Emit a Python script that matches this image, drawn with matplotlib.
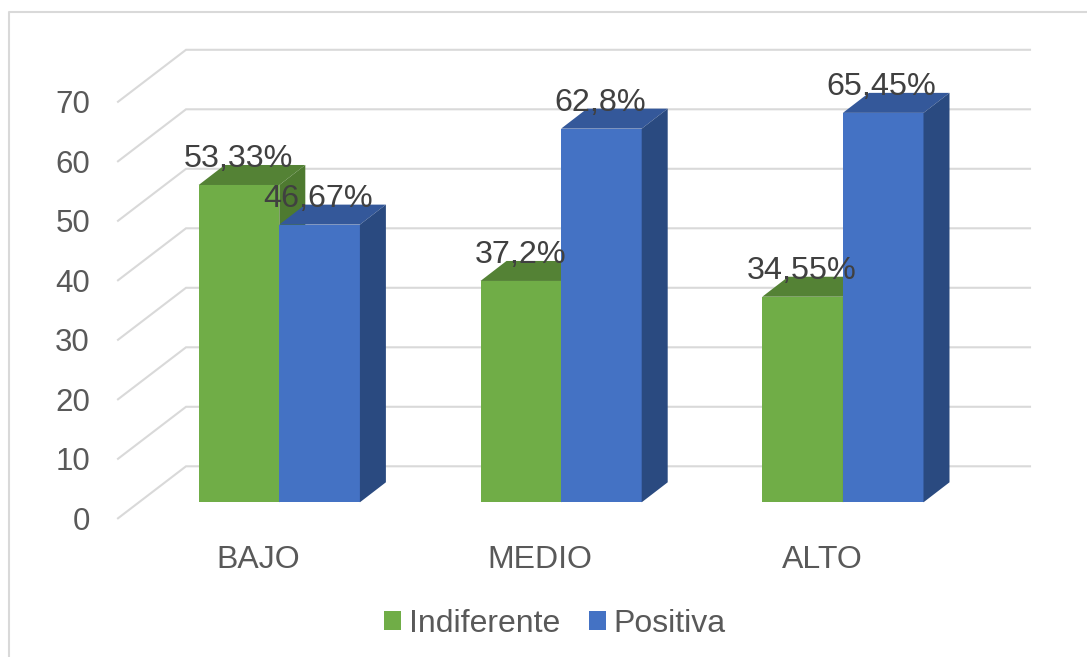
import numpy as np
import matplotlib.pyplot as plt
from matplotlib.lines import Line2D
from matplotlib.patches import Patch, Polygon, Rectangle

categories = ["BAJO", "MEDIO", "ALTO"]
indiferente = [53.33, 37.2, 34.55]
positiva = [46.67, 62.8, 65.45]
indiferente_labels = ["53,33%", "37,2%", "34,55%"]
positiva_labels = ["46,67%", "62,8%", "65,45%"]
y_ticks = [0, 10, 20, 30, 40, 50, 60, 70]

plt.rcParams["font.family"] = ["Liberation Sans", "DejaVu Sans"]

W, H = 1087, 657
PX_X = 281.8    # pixels per category
PX_Y = 5.95     # pixels per value unit
BASE_X, BASE_Y = 279.3, 502.3   # pixel of first group centre, value 0

# pixel sizes of the fake 3d look, turned into data units
bar_w = 80.6 / PX_X
bar_dx = 26 / PX_X
bar_dy = 20 / PX_Y
wall_left = (118 - BASE_X) / PX_X
wall_back = (186 - BASE_X) / PX_X
wall_right = (1030 - BASE_X) / PX_X
wall_front_y = -16 / PX_Y
wall_back_y = 36 / PX_Y

GREEN = ("#70AD47", "#548235", "#4E7A30")
BLUE = ("#4472C4", "#34589A", "#2A4A80")
GRID = "#D9D9D9"
TICK_TEXT = "#595959"
LABEL_TEXT = "#404040"

fig = plt.figure(figsize=(W / 100, H / 100), dpi=100)
ax = fig.add_axes([0, 0, 1, 1])
ax.set_xlim(-BASE_X / PX_X, (W - BASE_X) / PX_X)
ax.set_ylim((BASE_Y - H) / PX_Y, BASE_Y / PX_Y)
ax.axis("off")

# outer frame only shows on the left and the top
fig.add_artist(Line2D([9.2 / W, 9.2 / W, 1], [0, 1 - 12 / H, 1 - 12 / H], color=GRID,
                      linewidth=1.5, transform=fig.transFigure))

# walls
for v in y_ticks:
    ax.plot([wall_left, wall_back, wall_right],
            [v + wall_front_y, v + wall_back_y, v + wall_back_y],
            color=GRID, linewidth=1.5, zorder=1, solid_joinstyle="miter")
    ax.text(wall_left - 28 / PX_X, v + wall_front_y - 3.5 / PX_Y, str(v), ha="right", va="center",
            fontsize=22.5, color=TICK_TEXT, zorder=5)


def draw_bar(x0, value, colors, z):
    front, top, side = colors
    ax.add_patch(Rectangle((x0, 0), bar_w, value, facecolor=front, edgecolor="none", zorder=z))
    ax.add_patch(Polygon([(x0, value), (x0 + bar_w, value),
                          (x0 + bar_w + bar_dx, value + bar_dy), (x0 + bar_dx, value + bar_dy)],
                         facecolor=top, edgecolor="none", zorder=z))
    ax.add_patch(Polygon([(x0 + bar_w, 0), (x0 + bar_w + bar_dx, bar_dy),
                          (x0 + bar_w + bar_dx, value + bar_dy), (x0 + bar_w, value)],
                         facecolor=side, edgecolor="none", zorder=z))


for i in range(len(categories)):
    draw_bar(i - bar_w, indiferente[i], GREEN, 2)
    draw_bar(i, positiva[i], BLUE, 3)
    ax.text(i - bar_w / 2 - 0.5 / PX_X, indiferente[i] + 26 / PX_Y, indiferente_labels[i],
            ha="center", va="center", fontsize=23.3, color=LABEL_TEXT, zorder=6)
    ax.text(i + bar_w / 2 - 1.5 / PX_X, positiva[i] + 26 / PX_Y, positiva_labels[i],
            ha="center", va="center", fontsize=23.3, color=LABEL_TEXT, zorder=6)
    ax.text(i - 21 / PX_X, -58 / PX_Y, categories[i], ha="center", va="center",
            fontsize=23, color=TICK_TEXT, zorder=5)

handles = [Patch(facecolor=GREEN[0], label="Indiferente"), Patch(facecolor=BLUE[0], label="Positiva")]
fig.legend(handles=handles, loc="center", bbox_to_anchor=(555 / W, 1 - 624 / H), ncol=2,
           frameon=False, fontsize=23, labelcolor=TICK_TEXT, handlelength=0.53, handleheight=0.53,
           handletextpad=0.25, columnspacing=0.9, borderpad=0)

fig.savefig("out.png", dpi=100)
